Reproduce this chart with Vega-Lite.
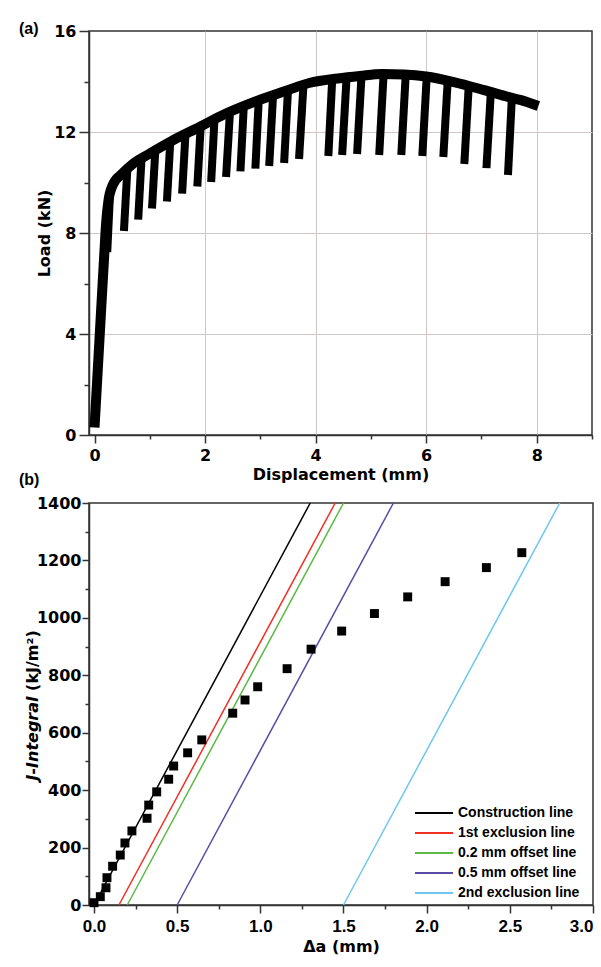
{
  "$schema": "https://vega.github.io/schema/vega-lite/v6.json",
  "background": "white",
  "padding": {"left": 18, "top": 20, "right": 0, "bottom": 0},
  "bounds": "flush",
  "spacing": 68,
  "resolve": {"scale": {"color": "independent", "x": "independent", "y": "independent"}, "legend": {"color": "independent"}, "axis": {"x": "independent", "y": "independent"}},
  "config": {
    "view": {"stroke": "#333333", "strokeWidth": 1.5},
    "axis": {"domainColor": "#333333", "domainWidth": 1.5, "tickColor": "#333333", "tickWidth": 1.5, "labelColor": "#000000", "titleColor": "#000000", "labelFont": "DejaVu Sans", "labelFontWeight": "bold", "labelFontSize": 16, "titleFont": "DejaVu Sans", "titleFontWeight": "bold", "titleFontSize": 16, "labelOverlap": false, "labelFlush": false},
    "title": {"font": "Liberation Sans", "fontSize": 16, "fontWeight": "bold", "color": "#000000"}
  },
  "vconcat": [
    {
      "width": 503,
      "height": 404,
      "title": {"text": "(a)", "anchor": "start", "frame": "group", "orient": "top", "offset": 0, "dx": -70, "dy": 27, "baseline": "alphabetic"},
      "layer": [
        {
          "data": {"values": [
            {"d": 0.0, "load": 0.3}, {"d": 0.09, "load": 3.8}, {"d": 0.18, "load": 7.3}, {"d": 0.21, "load": 8.4},
            {"d": 0.25, "load": 9.25}, {"d": 0.33, "load": 9.9}, {"d": 0.5, "load": 10.35}, {"d": 0.7, "load": 10.75},
            {"d": 1.0, "load": 11.15}, {"d": 1.4, "load": 11.65}, {"d": 1.9, "load": 12.2}, {"d": 2.35, "load": 12.7},
            {"d": 2.9, "load": 13.2}, {"d": 3.45, "load": 13.62}, {"d": 3.9, "load": 13.95}, {"d": 4.4, "load": 14.12},
            {"d": 4.8, "load": 14.22}, {"d": 5.2, "load": 14.3}, {"d": 5.6, "load": 14.28}, {"d": 6.0, "load": 14.2},
            {"d": 6.5, "load": 13.98}, {"d": 7.05, "load": 13.66}, {"d": 7.5, "load": 13.38}, {"d": 7.7, "load": 13.27},
            {"d": 8.03, "load": 13.03}
          ]},
          "mark": {"type": "line", "color": "#000000", "strokeWidth": 10, "strokeCap": "butt", "strokeJoin": "round", "interpolate": "monotone"},
          "encoding": {
            "x": {"field": "d", "type": "quantitative", "scale": {"domain": [-0.1, 9], "nice": false, "zero": false},
              "axis": {"title": "Displacement (mm)", "values": [0, 1, 2, 3, 4, 5, 6, 7, 8, 9], "format": "d",
                "labelExpr": "datum.value % 2 === 0 ? datum.label : ''",
                "tickSize": {"condition": {"test": "datum.value % 2 === 0", "value": 8}, "value": 4},
                "grid": true, "gridColor": "#d4c6c6", "gridWidth": 1,
                "gridOpacity": {"condition": {"test": "datum.value % 2 === 0 && datum.value > 0", "value": 1}, "value": 0},
                "labelPadding": 4, "titlePadding": 3}},
            "y": {"field": "load", "type": "quantitative", "scale": {"domain": [0, 16], "nice": false},
              "axis": {"title": "Load (kN)", "values": [0, 2, 4, 6, 8, 10, 12, 14, 16], "format": "d",
                "labelExpr": "datum.value % 4 === 0 ? datum.label : ''",
                "tickSize": {"condition": {"test": "datum.value % 4 === 0", "value": 10}, "value": 5},
                "grid": true, "gridColor": "#d4c6c6", "gridWidth": 1,
                "gridOpacity": {"condition": {"test": "datum.value % 4 === 0 && datum.value > 0 && datum.value < 16", "value": 1}, "value": 0},
                "labelPadding": 3, "titleX": -45, "titleBaseline": "middle"}}
          }
        },
        {
          "data": {"values": [
            {"bar": 1, "d": 0.28, "load": 9.55}, {"bar": 1, "d": 0.23, "load": 7.25},
            {"bar": 2, "d": 0.594, "load": 10.54}, {"bar": 2, "d": 0.532, "load": 8.08},
            {"bar": 3, "d": 0.85, "load": 10.95}, {"bar": 3, "d": 0.79, "load": 8.53},
            {"bar": 4, "d": 1.10, "load": 11.28}, {"bar": 4, "d": 1.04, "load": 8.97},
            {"bar": 5, "d": 1.37, "load": 11.61}, {"bar": 5, "d": 1.31, "load": 9.25},
            {"bar": 6, "d": 1.645, "load": 11.92}, {"bar": 6, "d": 1.585, "load": 9.56},
            {"bar": 7, "d": 1.92, "load": 12.22}, {"bar": 7, "d": 1.86, "load": 9.84},
            {"bar": 8, "d": 2.17, "load": 12.5}, {"bar": 8, "d": 2.11, "load": 10.02},
            {"bar": 9, "d": 2.45, "load": 12.79}, {"bar": 9, "d": 2.38, "load": 10.22},
            {"bar": 10, "d": 2.70, "load": 13.02}, {"bar": 10, "d": 2.64, "load": 10.44},
            {"bar": 11, "d": 2.97, "load": 13.25}, {"bar": 11, "d": 2.91, "load": 10.55},
            {"bar": 12, "d": 3.23, "load": 13.45}, {"bar": 12, "d": 3.16, "load": 10.65},
            {"bar": 13, "d": 3.50, "load": 13.66}, {"bar": 13, "d": 3.43, "load": 10.77},
            {"bar": 14, "d": 3.78, "load": 13.86}, {"bar": 14, "d": 3.70, "load": 10.93},
            {"bar": 15, "d": 4.30, "load": 14.09}, {"bar": 15, "d": 4.23, "load": 11.05},
            {"bar": 16, "d": 4.56, "load": 14.16}, {"bar": 16, "d": 4.48, "load": 11.09},
            {"bar": 17, "d": 4.83, "load": 14.23}, {"bar": 17, "d": 4.75, "load": 11.13},
            {"bar": 18, "d": 5.23, "load": 14.3}, {"bar": 18, "d": 5.15, "load": 11.09},
            {"bar": 19, "d": 5.63, "load": 14.28}, {"bar": 19, "d": 5.55, "load": 11.09},
            {"bar": 20, "d": 6.01, "load": 14.2}, {"bar": 20, "d": 5.93, "load": 11.05},
            {"bar": 21, "d": 6.39, "load": 14.04}, {"bar": 21, "d": 6.31, "load": 11.01},
            {"bar": 22, "d": 6.77, "load": 13.82}, {"bar": 22, "d": 6.69, "load": 10.73},
            {"bar": 23, "d": 7.17, "load": 13.59}, {"bar": 23, "d": 7.09, "load": 10.57},
            {"bar": 24, "d": 7.55, "load": 13.35}, {"bar": 24, "d": 7.48, "load": 10.30}
          ]},
          "mark": {"type": "line", "color": "#000000", "strokeWidth": 8, "strokeCap": "butt"},
          "encoding": {
            "x": {"field": "d", "type": "quantitative", "scale": {"domain": [-0.1, 9], "nice": false, "zero": false}},
            "y": {"field": "load", "type": "quantitative", "scale": {"domain": [0, 16], "nice": false}},
            "detail": {"field": "bar", "type": "nominal"}
          }
        }
      ]
    },
    {
      "width": 504,
      "height": 402,
      "title": {"text": "(b)", "anchor": "start", "frame": "group", "orient": "top", "offset": 0, "dx": -70, "dy": 6, "baseline": "alphabetic"},
      "layer": [
        {
          "data": {"values": [
            {"line": "Construction line", "da": 0.0, "J": 0}, {"line": "Construction line", "da": 1.30, "J": 1400},
            {"line": "1st exclusion line", "da": 0.15, "J": 0}, {"line": "1st exclusion line", "da": 1.45, "J": 1400},
            {"line": "0.2 mm offset line", "da": 0.2, "J": 0}, {"line": "0.2 mm offset line", "da": 1.5, "J": 1400},
            {"line": "0.5 mm offset line", "da": 0.5, "J": 0}, {"line": "0.5 mm offset line", "da": 1.8, "J": 1400},
            {"line": "2nd exclusion line", "da": 1.5, "J": 0}, {"line": "2nd exclusion line", "da": 2.8, "J": 1400}
          ]},
          "mark": {"type": "line", "strokeWidth": 1.5},
          "encoding": {
            "x": {"field": "da", "type": "quantitative", "scale": {"domain": [-0.03, 3], "nice": false, "zero": false},
              "axis": {"title": "Δa (mm)", "values": [0, 0.25, 0.5, 0.75, 1, 1.25, 1.5, 1.75, 2, 2.25, 2.5, 2.75, 3],
                "format": ".1f", "labelExpr": "round(datum.value * 4) % 2 === 0 ? datum.label : ''",
                "tickSize": {"condition": {"test": "round(datum.value * 4) % 2 === 0", "value": 8}, "value": 4},
                "grid": false, "labelFont": "Liberation Sans", "labelFontSize": 17, "labelPadding": 5, "titlePadding": 4, "labelFlush": true}},
            "y": {"field": "J", "type": "quantitative", "scale": {"domain": [0, 1400], "nice": false},
              "axis": {"orient": "left", "title": "J-Integral", "labels": false, "ticks": false, "domain": false, "grid": false,
                "titleFontStyle": "italic", "titleX": -57, "titleY": 235, "titleBaseline": "middle", "titleAlign": "center"}},
            "color": {"field": "line", "type": "nominal",
              "scale": {"domain": ["Construction line", "1st exclusion line", "0.2 mm offset line", "0.5 mm offset line", "2nd exclusion line"],
                "range": ["#000000", "#ee3124", "#5cb946", "#5b4ba6", "#6cc8ec"]},
              "legend": {"title": null, "orient": "none", "legendX": 335, "legendY": 300, "symbolType": "M-5,0H5", "symbolSize": 58,
                "symbolStrokeWidth": 2, "labelFont": "Liberation Sans", "labelFontSize": 14, "labelFontWeight": "bold",
                "labelColor": "#000000", "fillColor": "white", "padding": 3, "rowPadding": 6, "labelOffset": 17, "labelLimit": 300}}
          }
        },
        {
          "data": {"values": [
            {"da": 0.0, "J": 8}, {"da": 0.038, "J": 29}, {"da": 0.072, "J": 60}, {"da": 0.078, "J": 95},
            {"da": 0.112, "J": 135}, {"da": 0.158, "J": 174}, {"da": 0.186, "J": 216}, {"da": 0.228, "J": 258},
            {"da": 0.319, "J": 302}, {"da": 0.329, "J": 348}, {"da": 0.377, "J": 394}, {"da": 0.449, "J": 438},
            {"da": 0.479, "J": 484}, {"da": 0.563, "J": 530}, {"da": 0.648, "J": 575}, {"da": 0.834, "J": 668},
            {"da": 0.908, "J": 714}, {"da": 0.984, "J": 760}, {"da": 1.161, "J": 823}, {"da": 1.305, "J": 891},
            {"da": 1.489, "J": 954}, {"da": 1.686, "J": 1015}, {"da": 1.886, "J": 1073}, {"da": 2.111, "J": 1126},
            {"da": 2.359, "J": 1175}, {"da": 2.572, "J": 1227}
          ]},
          "mark": {"type": "square", "size": 80, "color": "#000000", "opacity": 1},
          "encoding": {
            "x": {"field": "da", "type": "quantitative", "scale": {"domain": [-0.03, 3], "nice": false, "zero": false}},
            "y": {"field": "J", "type": "quantitative", "scale": {"domain": [0, 1400], "nice": false},
              "axis": {"orient": "left", "title": "(kJ/m²)", "values": [0, 100, 200, 300, 400, 500, 600, 700, 800, 900, 1000, 1100, 1200, 1300, 1400], "format": "d",
                "labelExpr": "datum.value % 200 === 0 ? datum.label : ''",
                "tickSize": {"condition": {"test": "datum.value % 200 === 0", "value": 7}, "value": 4},
                "grid": false, "labelPadding": 1, "titleX": -57, "titleY": 157, "titleBaseline": "middle", "titleAlign": "center"}}
          }
        }
      ],
      "resolve": {"axis": {"y": "independent"}}
    }
  ]
}
